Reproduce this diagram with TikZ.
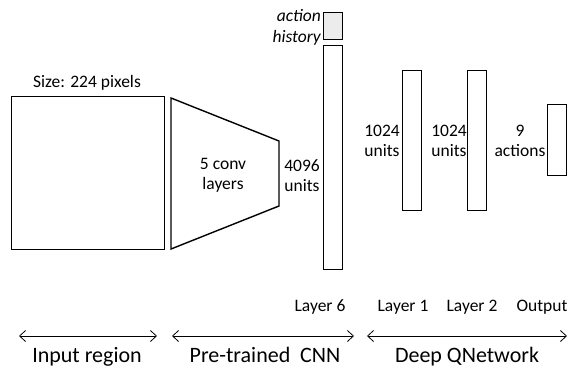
\documentclass[tikz,border=0pt]{standalone}
\usepackage{fontspec}
\setmainfont{Carlito}
\usetikzlibrary{arrows.meta}
\begin{document}
\begin{tikzpicture}[x=1pt,y=-1pt,
  box/.style={draw,line width=1.4pt},
  lbl/.style={inner sep=0pt,font=\fontsize{17.5}{20}\selectfont,align=center},
  big/.style={inner sep=0pt,font=\fontsize{22}{24}\selectfont},
  span/.style={line width=0.8pt,{Straight Barb[length=6pt,width=11pt]}-{Straight Barb[length=6pt,width=11pt]}}]
\useasboundingbox (0,0) rectangle (568,368);
% input square
\node[box,minimum width=153pt,minimum height=153pt,anchor=north west,inner sep=0pt] (sq) at (11,96) {};
\node[lbl,anchor=base] (size) at (87,87) {Size: 224 pixels};
% trapezoid
\coordinate (p1) at (171,98); \coordinate (p2) at (279,141);
\coordinate (p3) at (279,206); \coordinate (p4) at (171,249);
\draw[box] (p1) -- (p2) -- (p3) -- (p4) -- cycle;
\node[lbl] (conv) at (223,175) {5 conv\\layers};
% layer 6
\node[box,fill=gray!15,minimum width=19pt,minimum height=27pt,anchor=north west,inner sep=0pt] (ahbox) at (323,12) {};
\node[lbl,font=\fontsize{17.5}{21}\selectfont\itshape,anchor=east,align=right] (ah) at (321,27) {action\\history};
\node[box,minimum width=19pt,minimum height=224pt,anchor=north west,inner sep=0pt] (l6box) at (323,45) {};
\node[lbl] (u6) at (302,176) {4096\\units};
% layer 1, 2, output
\node[box,minimum width=19pt,minimum height=140pt,anchor=north west,inner sep=0pt] (l1box) at (402,70) {};
\node[box,minimum width=19pt,minimum height=140pt,anchor=north west,inner sep=0pt] (l2box) at (467,70) {};
\node[box,minimum width=19pt,minimum height=71pt,anchor=north west,inner sep=0pt] (obox) at (547,104) {};
\node[lbl] (u1) at (382,141) {1024\\units};
\node[lbl] (u2) at (449,141) {1024\\units};
\node[lbl] (u3) at (520,141) {9\\actions};
% layer labels
\node[lbl,anchor=base] (l6) at (320,311) {Layer 6};
\node[lbl,anchor=base] (l1) at (403,311) {Layer 1};
\node[lbl,anchor=base] (l2) at (472,311) {Layer 2};
\node[lbl,anchor=base] (lo) at (542,311) {Output};
% spans
\coordinate (a1) at (19,336); \coordinate (b1) at (157,336);
\coordinate (a2) at (172,336); \coordinate (b2) at (354,336);
\coordinate (a3) at (367,336); \coordinate (b3) at (567,336);
\draw[span] (a1) -- (b1);
\draw[span] (a2) -- (b2);
\draw[span] (a3) -- (b3);
\node[big,anchor=base] (t1) at (87,362) {Input region};
\node[big,anchor=base] (t2) at (265,362) {Pre-trained\ \ CNN};
\node[big,anchor=base] (t3) at (467,362) {Deep QNetwork};
\end{tikzpicture}
\end{document}
